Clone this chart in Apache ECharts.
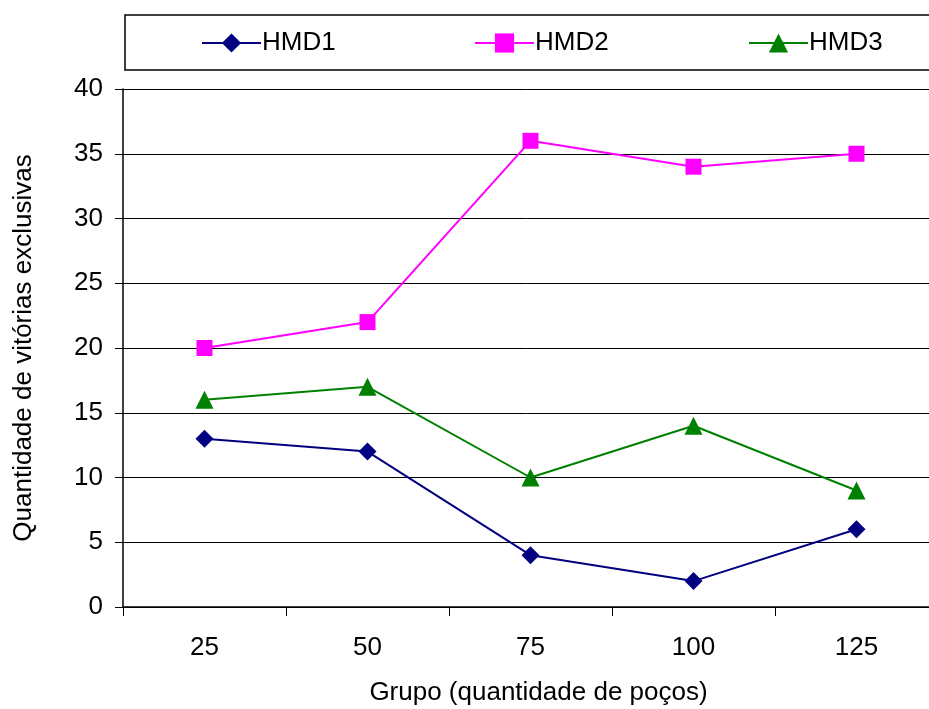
<!DOCTYPE html>
<html>
<head>
<meta charset="utf-8">
<script src="https://cdn.jsdelivr.net/npm/echarts@6/dist/echarts.min.js"></script>
<style>
html,body{margin:0;padding:0;background:#fff;}
#chart{width:929px;height:709px;}
</style>
</head>
<body>
<div id="chart"></div>
<script>
// Group sizes (number of wells) and exclusive wins per heuristic
const groups = ['25', '50', '75', '100', '125'];
const seriesNames = ['HMD1', 'HMD2', 'HMD3'];
const hmd1 = [13, 12, 4, 2, 6];
const hmd2 = [20, 22, 36, 34, 35];
const hmd3 = [16, 17, 10, 14, 9];

const FONT = 'Liberation Sans, Arial, sans-serif';
const FS = 26;

// one legend entry per box slot, evenly spaced across the frame
const legendLefts = [196, 469, 743];
const legends = seriesNames.map((n, i) => ({
  top: 25,
  left: legendLefts[i],
  itemWidth: 59,
  itemHeight: 24,
  textStyle: { fontFamily: FONT, fontSize: FS, color: '#000', padding: [0, 0, 0, -4] },
  data: [n]
}));

const chart = echarts.init(document.getElementById('chart'));
chart.setOption({
  backgroundColor: '#ffffff',
  animation: false,
  textStyle: { fontFamily: FONT },
  graphic: [{
    type: 'rect',
    shape: { x: 125, y: 15, width: 820, height: 55 },
    style: { fill: '#ffffff', stroke: '#000000', lineWidth: 1.5 },
    z: 0
  }],
  legend: legends,
  grid: { left: 123, right: -9, top: 89, bottom: 102, containLabel: false, outerBoundsMode: 'none' },
  xAxis: {
    type: 'category',
    data: groups,
    boundaryGap: true,
    name: 'Grupo (quantidade de poços)',
    nameLocation: 'middle',
    nameGap: 73,
    nameTextStyle: { fontFamily: FONT, fontSize: FS, color: '#000', padding: [0, 0, 0, 16] },
    axisLine: { lineStyle: { color: '#000', width: 1.5 } },
    axisTick: { show: true, length: 9, lineStyle: { color: '#000' } },
    axisLabel: { fontFamily: FONT, fontSize: FS, color: '#000', margin: 28 },
    splitLine: { show: false }
  },
  yAxis: {
    type: 'value',
    min: 0,
    max: 40,
    interval: 5,
    name: 'Quantidade de vitórias exclusivas',
    nameLocation: 'middle',
    nameGap: 86,
    nameTextStyle: { fontFamily: FONT, fontSize: FS, color: '#000' },
    axisLine: { show: true, lineStyle: { color: '#000', width: 1.5 } },
    axisTick: { show: true, length: 8, lineStyle: { color: '#000' } },
    axisLabel: { fontFamily: FONT, fontSize: FS, color: '#000', margin: 20 },
    splitLine: { show: true, lineStyle: { color: '#000', width: 1 } }
  },
  series: [
    {
      name: seriesNames[0], type: 'line', data: hmd1,
      symbol: 'diamond', symbolSize: 18,
      lineStyle: { color: '#000080', width: 2 },
      itemStyle: { color: '#000080' }
    },
    {
      name: seriesNames[1], type: 'line', data: hmd2,
      symbol: 'rect', symbolSize: 16,
      lineStyle: { color: '#ff00ff', width: 2 },
      itemStyle: { color: '#ff00ff' }
    },
    {
      name: seriesNames[2], type: 'line', data: hmd3,
      symbol: 'triangle', symbolSize: 18,
      lineStyle: { color: '#008000', width: 2 },
      itemStyle: { color: '#008000' }
    }
  ]
});
</script>
</body>
</html>
